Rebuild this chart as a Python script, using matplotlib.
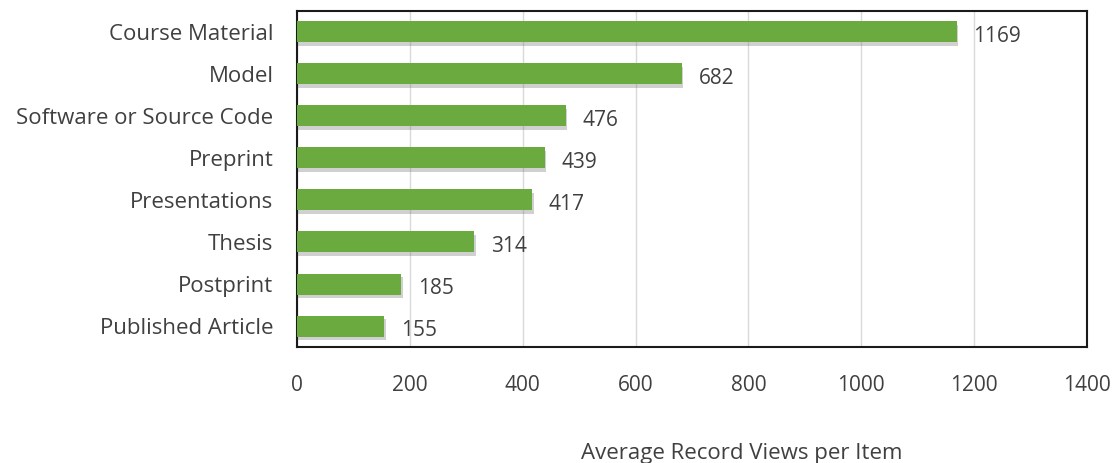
import matplotlib.pyplot as plt
import matplotlib.patheffects as pe

# data
categories = ["Course Material", "Model", "Software or Source Code", "Preprint",
              "Presentations", "Thesis", "Postprint", "Published Article"]
views = [1169, 682, 476, 439, 417, 314, 185, 155]
xticks = [0, 200, 400, 600, 800, 1000, 1200, 1400]

plt.rcParams['font.family'] = ['Open Sans', 'DejaVu Sans']
TEXT = "#404040"

fig = plt.figure(figsize=(11.12, 4.63), dpi=100)
ax = fig.add_axes([297 / 1112, 1 - 347 / 463, 790 / 1112, 336 / 463])

pos = list(range(len(categories)))[::-1]
bars = ax.barh(pos, views, height=0.5, color="#6aaa3e", zorder=3)
for b in bars:
    b.set_path_effects([pe.SimplePatchShadow(offset=(1, -2.5), shadow_rgbFace="#666666", alpha=0.3),
                        pe.Normal()])

# value labels sit a little below the bar centre, as in the original
for p, v in zip(pos, views):
    ax.annotate(str(v), (v, p), xytext=(12, -3.5), textcoords="offset points",
                va="center", ha="left", fontsize=15, color=TEXT)

ax.set_xlim(0, 1400)
ax.set_ylim(-0.5, len(categories) - 0.5)
ax.set_xticks(xticks)
ax.set_yticks(pos)
ax.set_yticklabels(categories)
ax.tick_params(axis="x", length=0, pad=20, labelsize=15, labelcolor=TEXT)
ax.tick_params(axis="y", length=0, pad=17, labelsize=16, labelcolor=TEXT)
ax.grid(axis="x", color="#d9d9d9", linewidth=1, zorder=0)
for s in ax.spines.values():
    s.set_color("#1a1a1a")
    s.set_linewidth(1.5)

fig.text(742 / 1112, 1 - 454 / 463, "Average Record Views per Item", ha="center", va="center",
         fontsize=16, color=TEXT)

fig.savefig("out.png", dpi=100)
